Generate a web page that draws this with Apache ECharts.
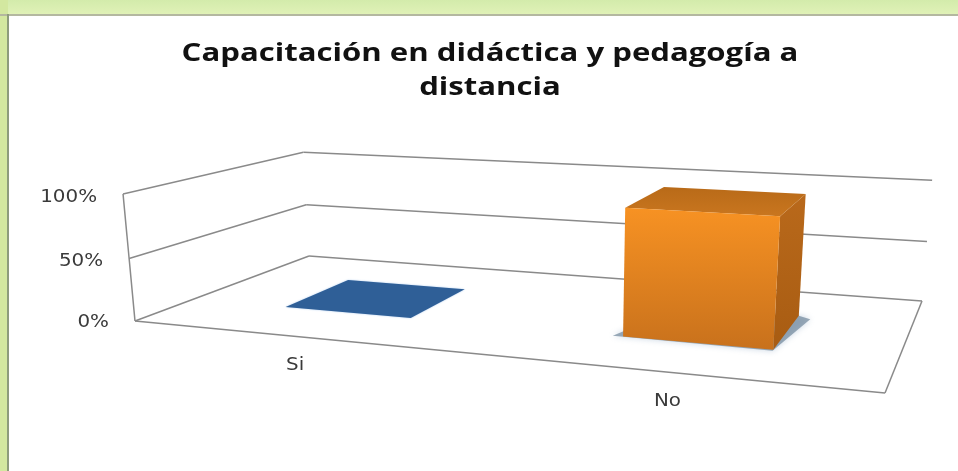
<!DOCTYPE html>
<html>
<head>
<meta charset="utf-8">
<style>html,body{margin:0;padding:0;background:#fff}#c{width:958px;height:471px;filter:blur(0.45px)}</style>
<script src="https://cdn.jsdelivr.net/npm/echarts@6/dist/echarts.min.js"></script>
</head>
<body>
<div id="c"></div>
<script>
const titleLines = ['Capacitación en didáctica y pedagogía a', 'distancia'];
const categories = ['Si', 'No'];
const values = [0, 97];
const tickValues = [0, 50, 100];
const tickLabels = ['0%', '50%', '100%'];

// Perspective camera: floor corners in pixels, used only to build the projection.
const W = 958, H = 471;
const FL = [135, 321], FR = [885, 393], BR = [922, 301], BL = [309, 256];
const roofDrift = [-15.4, -132.4, -0.028];
const barWidthU = 0.196, barFrontV = 0.295, barBackV = 0.69;

const sx = FL[0] - FR[0] + BR[0] - BL[0], sy = FL[1] - FR[1] + BR[1] - BL[1];
const dx1 = FR[0] - BR[0], dy1 = FR[1] - BR[1], dx2 = BL[0] - BR[0], dy2 = BL[1] - BR[1];
const det = dx1 * dy2 - dx2 * dy1;
const g = (sx * dy2 - dx2 * sy) / det, k = (dx1 * sy - sx * dy1) / det;
function project(u, v, t) {
  const w = g * u + k * v + 1 + roofDrift[2] * t;
  return [
    ((FR[0] - FL[0] + g * FR[0]) * u + (BL[0] - FL[0] + k * BL[0]) * v + FL[0] + roofDrift[0] * t) / w,
    ((FR[1] - FL[1] + g * FR[1]) * u + (BL[1] - FL[1] + k * BL[1]) * v + FL[1] + roofDrift[1] * t) / w
  ];
}
const lineStyle = { stroke: '#8a8a8a', lineWidth: 1.5, fill: null };
function seg(a, b, style) {
  return { type: 'line', shape: { x1: a[0], y1: a[1], x2: b[0], y2: b[1] }, style: style || lineStyle, silent: true };
}
function poly(pts, style) {
  return { type: 'polygon', shape: { points: pts }, style: style, silent: true };
}
function grad(a, b, x1, y1, x2, y2) {
  return new echarts.graphic.LinearGradient(x1, y1, x2, y2, [{ offset: 0, color: a }, { offset: 1, color: b }]);
}
const labelFont = '17px "DejaVu Sans"';
function stretched(text, x, y, align) {
  return { type: 'text', x: x, y: y, scaleX: 1.17, silent: true,
    style: { text: text, x: 0, y: 0, align: align, verticalAlign: 'middle', font: labelFont, fill: '#3a3a3a' } };
}

function renderWalls(params, api) {
  const t = api.value(0) / 100;
  const kids = [
    seg(project(0, 0, t), project(0, 1, t)),
    seg(project(0, 1, t), project(1, 1, t)),
    stretched(tickLabels[params.dataIndex], project(0, 0, t)[0] - 26, project(0, 0, t)[1] + 2 + 2 * t, 'right')
  ];
  if (params.dataIndex === 0) {
    kids.push(seg(project(0, 0, 0), project(1, 0, 0)));
    kids.push(seg(project(1, 0, 0), project(1, 1, 0)));
    kids.push(seg(project(0, 0, 0), project(0, 0, 1)));
  }
  return { type: 'group', children: kids };
}

function renderBars(params, api) {
  const p = api.coord([api.value(0), api.value(1)]);
  const uC = p[0] / W, t = (H - p[1]) / H;
  const u0 = uC - barWidthU / 2, u1 = uC + barWidthU / 2, v0 = barFrontV, v1 = barBackV;
  const kids = [];
  const lab = project(uC, 0, 0);
  kids.push(stretched(categories[params.dataIndex], lab[0] - 1, lab[1] + 29, 'center'));
  if (t <= 0) {
    kids.push(poly([project(u0, v0, 0), project(u1, v0, 0), project(u1, v1, 0), project(u0, v1, 0)],
      { fill: '#2f5f97', shadowBlur: 2, shadowColor: 'rgba(90,150,220,.5)' }));
    return { type: 'group', children: kids };
  }
  kids.push(poly([project(u0 - 0.014, v0, 0), project(u1, v0 - 0.01, 0), project(u1 + 0.018, v1 - 0.03, 0), project(u1, v1, 0), project(u0, v0 + 0.12, 0)],
    { fill: 'rgba(112,135,155,.7)', shadowBlur: 6, shadowColor: 'rgba(130,160,190,.6)' }));
  kids.push(poly([project(u1, v0, 0), project(u1, v1, 0), project(u1, v1, t), project(u1, v0, t)],
    { fill: grad('#b9691b', '#a85c12', 0, 0, 0, 1) }));
  kids.push(poly([project(u0, v0, t), project(u1, v0, t), project(u1, v1, t), project(u0, v1, t)],
    { fill: grad('#b86a18', '#c9761f', 0, 0, 0, 1) }));
  kids.push(poly([project(u0, v0, 0), project(u1, v0, 0), project(u1, v0, t), project(u0, v0, t)],
    { fill: grad('#f79223', '#c8711c', 0, 0, 0, 1) }));
  return { type: 'group', children: kids };
}

const titleFont = 'bold 25px "Open Sans"';
function titleLine(text, y) {
  return { type: 'text', z: 5, x: 490, y: y, scaleX: 1.245, silent: true,
    style: { text: text, x: 0, y: 0, align: 'center', verticalAlign: 'middle', font: titleFont, fill: '#111' } };
}

const chart = echarts.init(document.getElementById('c'), null, { renderer: 'canvas' });
chart.setOption({
  animation: false,
  backgroundColor: '#ffffff',
  graphic: [
    { type: 'rect', z: -10, shape: { x: 0, y: 0, width: W, height: 15 }, style: { fill: grad('#d3ebab', '#e1f2b8', 0, 0, 0, 1) } },
    { type: 'rect', z: -10, shape: { x: 0, y: 0, width: 8, height: H }, style: { fill: '#d3e8a0' } },
    { type: 'rect', z: -9, shape: { x: 0, y: 14, width: W, height: 2 }, style: { fill: '#b4b8a0' } },
    { type: 'rect', z: -9, shape: { x: 7, y: 14, width: 2, height: H }, style: { fill: '#8d9c7c' } },
    titleLine(titleLines[0], 54),
    titleLine(titleLines[1], 88)
  ],
  grid: { left: 0, right: 0, top: 0, bottom: 0 },
  xAxis: { type: 'category', data: categories, show: false },
  yAxis: { type: 'value', min: 0, max: 100, interval: 50, show: false },
  series: [
    { type: 'custom', name: 'walls', coordinateSystem: 'cartesian2d', z: 1, clip: false,
      data: tickValues.map(v => [v]), encode: { x: -1, y: 0 }, renderItem: renderWalls },
    { type: 'custom', name: 'bars', coordinateSystem: 'cartesian2d', z: 2, clip: false,
      data: categories.map((c, i) => [i, values[i]]), encode: { x: 0, y: 1 }, renderItem: renderBars }
  ]
});
</script>
</body>
</html>
